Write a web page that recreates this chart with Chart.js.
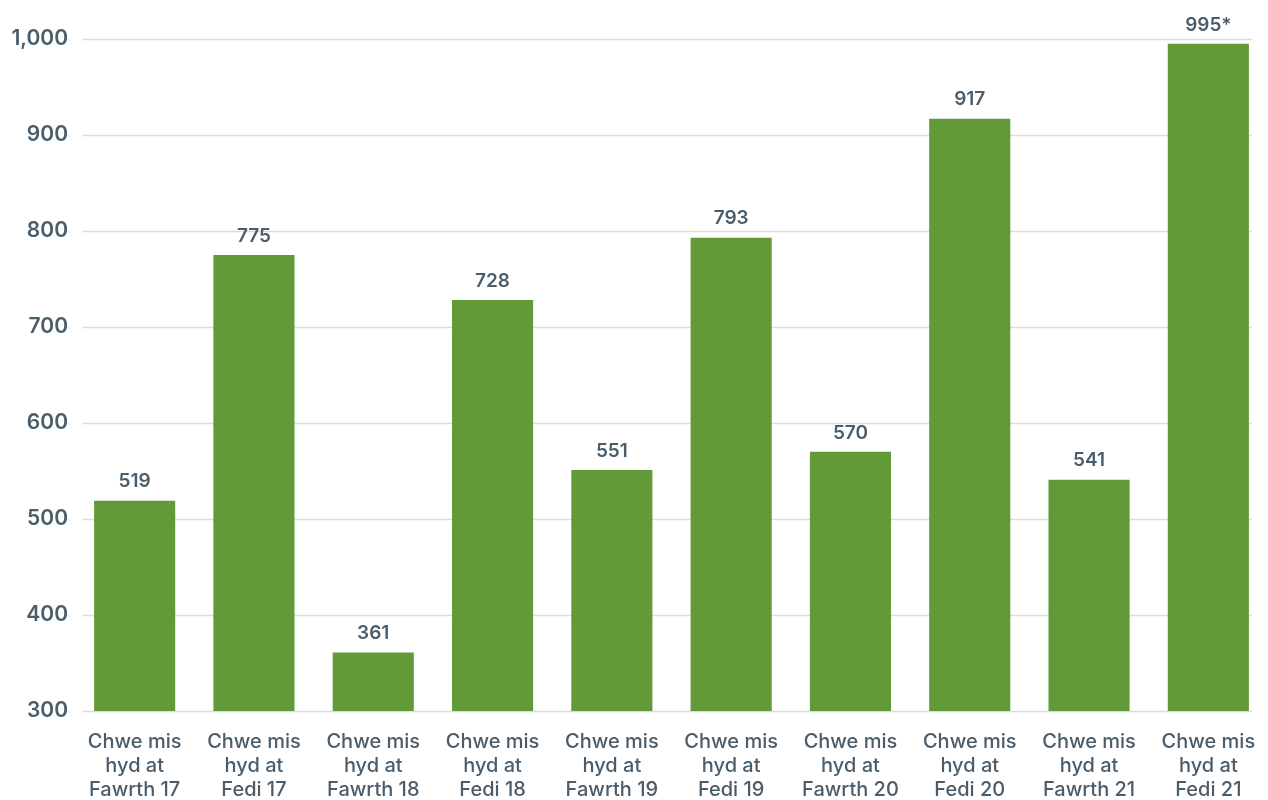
<!DOCTYPE html>
<html>
<head>
<meta charset="utf-8">
<script src="https://cdn.jsdelivr.net/npm/chart.js@4"></script>
<style>
html,body{margin:0;padding:0;background:#fff;}
#wrap{width:1268px;height:800px;}
</style>
</head>
<body>
<div id="wrap"><canvas id="c" width="1268" height="800"></canvas></div>
<script>
const categories = [
  ["Chwe mis","hyd at","Fawrth 17"],
  ["Chwe mis","hyd at","Fedi 17"],
  ["Chwe mis","hyd at","Fawrth 18"],
  ["Chwe mis","hyd at","Fedi 18"],
  ["Chwe mis","hyd at","Fawrth 19"],
  ["Chwe mis","hyd at","Fedi 19"],
  ["Chwe mis","hyd at","Fawrth 20"],
  ["Chwe mis","hyd at","Fedi 20"],
  ["Chwe mis","hyd at","Fawrth 21"],
  ["Chwe mis","hyd at","Fedi 21"]
];
const values = [519, 775, 361, 728, 551, 793, 570, 917, 541, 995];
const valueLabels = ["519","775","361","728","551","793","570","917","541","995*"];
const yTicks = [300, 400, 500, 600, 700, 800, 900, 1000];

const TEXT = '#4a5d6b';
const FONT = 'Inter, Roboto, "Noto Sans", sans-serif';

const gridPlugin = {
  id: 'customGrid',
  beforeDatasetsDraw(chart) {
    const {ctx, chartArea, scales} = chart;
    ctx.save();
    ctx.strokeStyle = '#dcdcdc';
    ctx.lineWidth = 1.5;
    yTicks.forEach(v => {
      const y = Math.round(scales.y.getPixelForValue(v)) + 0.5;
      ctx.beginPath();
      ctx.moveTo(chartArea.left + 8, y);
      ctx.lineTo(1252, y);
      ctx.stroke();
    });
    ctx.restore();
  }
};

const labelPlugin = {
  id: 'valueLabels',
  afterDatasetsDraw(chart) {
    const {ctx} = chart;
    const meta = chart.getDatasetMeta(0);
    ctx.save();
    ctx.fillStyle = TEXT;
    ctx.font = '600 19px ' + FONT;
    ctx.textAlign = 'center';
    ctx.textBaseline = 'middle';
    meta.data.forEach((bar, i) => {
      ctx.fillText(valueLabels[i], bar.x, bar.y - 19);
    });
    ctx.restore();
  }
};

new Chart(document.getElementById('c'), {
  type: 'bar',
  data: {
    labels: categories,
    datasets: [{
      data: values,
      backgroundColor: '#629a3a',
      borderWidth: 0,
      categoryPercentage: 0.68,
      barPercentage: 1.0
    }]
  },
  options: {
    responsive: false,
    animation: false,
    devicePixelRatio: 1,
    layout: { padding: { top: 39, right: -2, left: 0, bottom: 0 } },
    plugins: { legend: { display: false }, tooltip: { enabled: false } },
    scales: {
      x: {
        offset: true,
        grid: { display: false, drawTicks: false },
        border: { display: false },
        ticks: {
          color: TEXT,
          font: { family: FONT, size: 20, weight: '500', lineHeight: 1.2 },
          padding: 19,
          maxRotation: 0,
          autoSkip: false
        },
        afterFit(scale) { scale.height = 89; scale.paddingLeft = 0; scale.paddingRight = 0; }
      },
      y: {
        min: 300,
        max: 1000,
        afterBuildTicks(scale) { scale.ticks = yTicks.map(v => ({value: v})); },
        grid: { display: false, drawTicks: false },
        border: { display: false },
        ticks: {
          color: TEXT,
          font: { family: FONT, size: 21, weight: '600' },
          padding: 7,
          callback: v => v.toLocaleString('en-US')
        },
        afterFit(scale) { scale.width = 75; scale.paddingTop = 0; scale.paddingBottom = 0; }
      }
    }
  },
  plugins: [gridPlugin, labelPlugin]
});
</script>
</body>
</html>
